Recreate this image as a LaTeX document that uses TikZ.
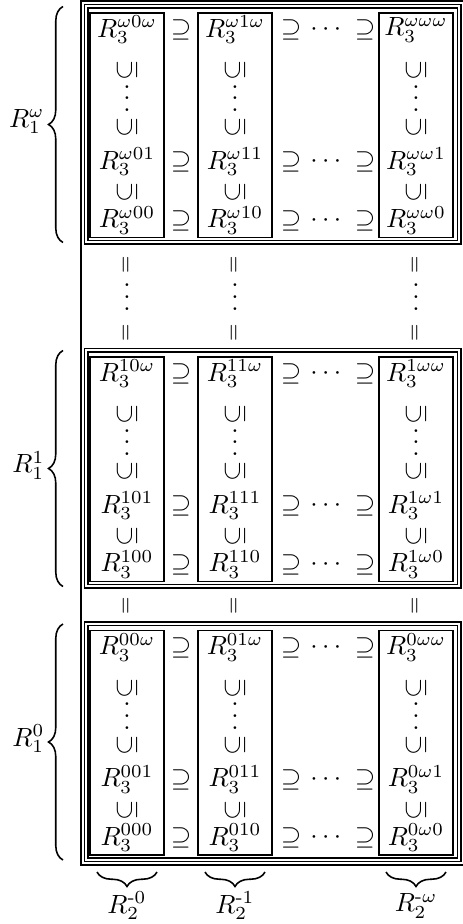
\documentclass[tikz,border=0pt]{standalone}
\usepackage{amssymb}
\usepackage{amsmath}
\usepackage{tikz}
\usetikzlibrary{decorations.pathreplacing}

\newcommand{\tallvdots}{\vbox{\baselineskip4.5pt\lineskiplimit0pt\hbox{.}\hbox{.}\hbox{.}}}

\begin{document}
\begin{tikzpicture}
    [
    x=0.38pt,y=-0.38pt,
    elem/.style={inner sep=0pt},
    upsub/.style={inner sep=0pt,rotate=90},
    upeq/.style={inner sep=0pt,rotate=90,font=\footnotesize},
    frm/.style={line width=0.6pt},
    dbl/.style={double,double distance=0.83pt,line width=0.5pt},
    brc/.style={decorate,decoration={brace,amplitude=5.5pt},line width=0.6pt},
    ]
    \useasboundingbox (0,0) rectangle (462,924);
    \draw [frm] (470,1) -- (81,1) -- (81,865) -- (470,865);

    \foreach \b/\ty/\bs in {w/4.5/\omega,1/348.5/1,0/622/0} {
      \draw [dbl] (86.25,\ty+1.75) rectangle (459.25,\ty+237.75);
      \foreach \c/\cx/\cs in {0/127/0,1/235/1,w/416/\omega} {
        \draw [frm] (\cx-37,\ty+8.5) rectangle (\cx+37,\ty+233);
        \node (e-\b-\c-w) at (\cx,\ty+25.5) [elem] {$R_3^{\bs\cs\omega}$};
        \node (s-\b-\c-a) at (\cx,\ty+66) [upsub] {$\subseteq$};
        \node (d-\b-\c) at (\cx,\ty+94) [elem] {$\tallvdots$};
        \node (s-\b-\c-b) at (\cx,\ty+123) [upsub] {$\subseteq$};
        \node (e-\b-\c-1) at (\cx,\ty+157.5) [elem] {$R_3^{\bs\cs1}$};
        \node (s-\b-\c-c) at (\cx,\ty+188) [upsub] {$\subseteq$};
        \node (e-\b-\c-0) at (\cx,\ty+216) [elem] {$R_3^{\bs\cs0}$};
      }
      \foreach \r/\ry in {w/25.5,1/157.5,0/216} {
        \node (p-\b-\r) at (181,\ty+\ry) [elem] {$\supseteq$};
        \node (q-\b-\r) at (291,\ty+\ry) [elem] {$\supseteq$};
        \node (c-\b-\r) at (328,\ty+\ry) [elem] {$\cdots$};
        \node (r-\b-\r) at (365,\ty+\ry) [elem] {$\supseteq$};
      }
      \draw [brc] (63,\ty+238) -- (63,\ty+2);
      \node (l-\b) at (45,\ty+117) [elem,anchor=east] {$R_1^{\bs}$};
    }

    \foreach \c/\cx/\cs in {0/127/0,1/235/1,w/416/\omega} {
      \node (g-\c-a) at (\cx,265) [upeq] {$=$};
      \node (g-\c-d) at (\cx,297) [elem] {$\tallvdots$};
      \node (g-\c-b) at (\cx,333) [upeq] {$=$};
      \node (h-\c) at (\cx,606) [upeq] {$=$};
      \draw [brc] (\cx+30,872) -- (\cx-30,872);
      \node (m-\c) at (\cx,906) [elem] {$R_2^{\text{-}\cs}$};
    }
  \end{tikzpicture}
\end{document}
